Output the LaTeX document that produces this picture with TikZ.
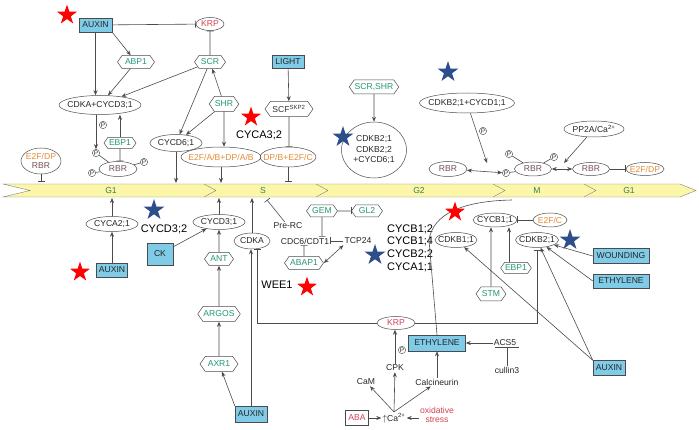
\documentclass[tikz,border=0pt]{standalone}
\usepackage{fontspec}
\setmainfont{Liberation Sans}
\usetikzlibrary{shapes.geometric,shapes.symbols,arrows.meta}

\definecolor{boxblue}{RGB}{128,204,232}
\definecolor{gentxt}{RGB}{35,150,120}
\definecolor{e2ftxt}{RGB}{225,140,55}
\definecolor{krptxt}{RGB}{210,65,85}
\definecolor{rbrtxt}{RGB}{115,80,85}
\definecolor{edge}{RGB}{75,75,75}
\definecolor{phasefill}{RGB}{252,247,168}
\definecolor{phasetxt}{RGB}{60,125,85}
\definecolor{starblue}{RGB}{45,78,138}

\newcommand{\nodefont}{\fontsize{8.6}{9.6}\selectfont}
\newcommand{\genefont}{\fontsize{11}{12.7}\selectfont}

\begin{document}
\begin{tikzpicture}[x=1pt,y=-1pt,
    every node/.style={font=\nodefont,text=black!85},
    ov/.style={ellipse,draw=edge,line width=0.5pt,inner xsep=-5pt,inner ysep=0pt,minimum height=14pt},
    hex/.style={signal,signal to=east and west,signal pointer angle=110,draw=edge,line width=0.5pt,
      text=gentxt,inner xsep=0.5pt,inner ysep=0pt,minimum height=13pt},
    sig/.style={rectangle,draw=edge,line width=0.5pt,fill=boxblue,inner sep=0pt,minimum height=14pt},
    lbl/.style={inner sep=1pt},
    gene/.style={font=\genefont,text=black,inner sep=0pt},
    pc/.style={circle,draw=edge,line width=0.4pt,inner sep=0.4pt,font=\fontsize{6.5}{6.5}\selectfont},
    rstar/.style={star,star points=5,star point ratio=2.6,fill=red,minimum size=21pt,inner sep=0pt},
    bstar/.style={rstar,fill=starblue,minimum size=22pt},
    act/.style={-{Stealth[length=5pt,width=4pt]}},
    inh/.style={-{Bar[width=7pt]}},
    dact/.style={{Stealth[length=5pt,width=4pt]}-{Stealth[length=5pt,width=4pt]}}]
  \useasboundingbox (0,0) rectangle (699,430);

  \draw[edge!70,fill=phasefill] (3,184) -- (680,184) -- (696,190.5) -- (680,197) -- (3,197) -- (30,190.5) -- cycle;
  \foreach \x in {204,316,493,584}
    \draw[edge!70] (\x,184) -- ++(12,6.5) -- ++(-12,6.5);
  \node[text=phasetxt] (g1a) at (111,190.5) {G1};
  \node[text=phasetxt] (s) at (263,190.5) {S};
  \node[text=phasetxt] (g2) at (419,190.5) {G2};
  \node[text=phasetxt] (m) at (537,190.5) {M};
  \node[text=phasetxt] (g1b) at (629,190.5) {G1};
  \coordinate (tE2fdp) at (41,182);
  \coordinate (tCycd6) at (176,183);
  \coordinate (tE2fab) at (221,183);
  \coordinate (tDpb) at (288,182);
  \coordinate (bCyca2) at (112,198);
  \coordinate (bCycd3) at (219,198);
  \coordinate (bCdka) at (252,198);
  \coordinate (bPrerc) at (267,200);
  \coordinate (bM) at (512,200);
  \coordinate (mRbr1) at (487,163);
  \coordinate (mRbr2) at (564,163);

  \node[sig,minimum width=33pt] (auxA) at (95.5,25) {AUXIN};
  \node[ov,text=krptxt,minimum width=28pt,minimum height=13pt] (krpA) at (210,24) {KRP};
  \node[hex,minimum width=37pt] (abp1) at (136,62) {ABP1};
  \node[hex,minimum width=31pt] (scr) at (210,62) {SCR};
  \node[sig,minimum width=32pt,minimum height=13pt] (light) at (288,62) {LIGHT};
  \node[hex,minimum width=48pt,minimum height=15pt,text=black!80] (scf) at (289,109) {SCF\textsuperscript{SKP2}};
  \node[hex,minimum width=46pt,minimum height=14pt] (scrshr) at (374,87) {SCR,SHR};
  \node[ov,minimum width=82pt,minimum height=19pt] (cdkd3) at (100,105) {CDKA+CYCD3;1};
  \node[hex,minimum width=27pt,minimum height=15pt] (shr) at (224,104) {SHR};
  \node[ov,minimum width=95pt,minimum height=20pt] (cdkb2d1) at (467,103) {CDKB2;1+CYCD1;1};
  \node[gene] (cyca32) at (259,135) {CYCA3;2};
  \node[ov,align=center,minimum width=65pt,minimum height=56pt,font=\fontsize{8.6}{10.5}\selectfont] (cdkb2g) at (374,150) {CDKB2;1\\CDKB2;2\\+CYCD6;1};
  \node[ov,minimum width=60pt,minimum height=16pt] (pp2a) at (594,129) {PP2A/Ca\textsuperscript{2+}};
  \node[hex,minimum width=32pt,minimum height=11pt] (ebp1a) at (120,143) {EBP1};
  \node[ov,minimum width=52pt,minimum height=17pt] (cycd61) at (176,143) {CYCD6;1};
  \node[ov,align=center,minimum width=40pt,minimum height=26pt] (e2fdpA) at (41,161) {\textcolor{e2ftxt}{E2F/DP}\\\textcolor{rbrtxt}{RBR}};
  \node[ov,text=rbrtxt,minimum width=38pt,minimum height=15pt] (rbrA) at (118,169) {RBR};
  \node[pc] (pA1) at (96,153) {P};
  \node[pc] (pA2) at (144,162) {P};
  \node[pc] (pA3) at (92,173) {P};
  \node[pc] (pA0) at (103,125) {P};
  \node[ov,text=e2ftxt,minimum width=80pt,minimum height=20pt] (e2fab) at (221,157) {E2F/A/B+DP/A/B};
  \node[ov,text=e2ftxt,minimum width=54pt,minimum height=20pt] (dpb) at (288,157) {DP/B+E2F/C};
  \node[ov,text=rbrtxt,minimum width=38pt,minimum height=15pt] (rbrB) at (448,169) {RBR};
  \node[ov,text=rbrtxt,minimum width=37pt,minimum height=14pt] (rbrC) at (533,169) {RBR};
  \node[pc] (pC1) at (509,154) {P};
  \node[pc] (pC2) at (554,157) {P};
  \node[pc] (pC3) at (506,173) {P};
  \node[pc] (pB0) at (483,131) {P};
  \node[ov,text=rbrtxt,minimum width=37pt,minimum height=13pt] (rbrD) at (591,169) {RBR};
  \node[ov,text=e2ftxt,minimum width=38pt,minimum height=13pt] (e2fdpB) at (645,169) {E2F/DP};

  \node[ov,minimum width=52pt,minimum height=15pt] (cyca21) at (112,224) {CYCA2;1};
  \node[gene] (cycd32) at (164,229) {CYCD3;2};
  \node[ov,minimum width=52pt,minimum height=15pt] (cycd31) at (219,222) {CYCD3;1};
  \node[sig,minimum width=26pt,minimum height=22pt] (ck) at (160,254) {CK};
  \node[sig,minimum width=31pt] (auxB) at (112,270) {AUXIN};
  \node[hex,minimum width=29pt] (ant) at (219,259) {ANT};
  \node[ov,minimum width=36pt,minimum height=16pt] (cdka) at (252,241) {CDKA};
  \node[lbl] (prerc) at (288,226) {Pre-RC};
  \node[hex,minimum width=31pt,minimum height=12pt] (gem) at (322,211) {GEM};
  \node[hex,minimum width=31pt,minimum height=12pt] (gl2) at (367,211) {GL2};
  \node[lbl] (cdc6) at (305,241) {CDC6/CDT1};
  \node[lbl] (tcp24) at (358,241) {TCP24};
  \node[hex,minimum width=39pt] (abap1) at (304,263) {ABAP1};
  \node[gene,align=left,anchor=west] (cycbs) at (387,248) {CYCB1;2\\CYCB1;4\\CYCB2;2\\CYCA1;1};
  \node[gene] (wee1) at (277,285) {WEE1};
  \node[ov,minimum width=44pt] (cycb11) at (495,220) {CYCB1;1};
  \node[ov,text=e2ftxt,minimum width=34pt] (e2fc) at (550,220) {E2F/C};
  \node[ov,minimum width=42pt,minimum height=15pt] (cdkb11) at (456,240) {CDKB1;1};
  \node[ov,minimum width=43pt,minimum height=15pt] (cdkb21) at (537,240) {CDKB2;1};
  \node[sig,minimum width=56pt,minimum height=15pt] (wound) at (621,256) {WOUNDING};
  \node[sig,minimum width=56pt] (ethR) at (621,281) {ETHYLENE};
  \node[hex,minimum width=30pt,minimum height=11pt] (ebp1b) at (516,268) {EBP1};
  \node[hex,minimum width=30pt,minimum height=14pt] (stm) at (491,294) {STM};
  \node[hex,minimum width=38pt,minimum height=15pt] (argos) at (219,314) {ARGOS};
  \node[ov,text=krptxt,minimum width=38pt,minimum height=13pt] (krpB) at (396,323) {KRP};
  \node[sig,minimum width=57pt,minimum height=16pt] (ethM) at (437,343) {ETHYLENE};
  \node[lbl] (acs5) at (505,343) {ACS5};
  \node[lbl] (cul3) at (507,370) {cullin3};
  \node[lbl] (cpk) at (395,368) {CPK};
  \node[pc] (pD) at (402,350) {P};
  \node[hex,minimum width=38pt,minimum height=15pt] (axr1) at (219,364) {AXR1};
  \node[sig,minimum width=32pt,minimum height=15pt] (auxC) at (609,368) {AUXIN};
  \node[lbl] (cam) at (366,382) {CaM};
  \node[lbl] (calc) at (437,382) {Calcineurin};
  \node[sig,minimum width=32pt,minimum height=16pt] (auxD) at (251,414) {AUXIN};
  \node[rectangle,draw=edge,line width=0.5pt,text=krptxt,minimum width=23pt,minimum height=15pt,inner sep=0pt] (aba) at (357,418) {ABA};
  \node[lbl] (ca) at (394,418) {$\uparrow$Ca\textsuperscript{2+}};
  \node[lbl,text=krptxt,align=center] (oxs) at (437,415) {oxidative\\stress};

  \begin{scope}[edge,line width=0.6pt]
    \draw[inh] (auxA) -- (krpA);
    \draw[act] (auxA) -- (auxA |- cdkd3.north);
    \draw[act] (auxA.south east) -- (abp1);
    \draw[act] (abp1) -- (cdkd3);
    \draw[inh] (scr) -- (krpA);
    \draw[act] (scr) -- (cdkd3);
    \draw[act] (shr) -- (scr);
    \draw[act] (scr) -- (cycd61);
    \draw[act] (shr) -- (cycd61);
    \draw[act] (shr) -- (shr |- e2fab.north);
    \draw[act] (cdkd3.south -| pA1) -- (pA1);
    \draw[act] (ebp1a.north) -- (ebp1a.north |- cdkd3.south);
    \draw[inh] (ebp1a) -- (ebp1a |- rbrA.north);
    \draw (pA1) -- (rbrA);
    \draw (pA2) -- (rbrA);
    \draw (pA3) -- (rbrA);
    \draw[inh] (e2fdpA) -- (tE2fdp);
    \draw[act] (cycd61) -- (tCycd6);
    \draw[act] (e2fab) -- (tE2fab);
    \draw[inh] (dpb) -- (tDpb);
    \draw[act] (light) -- (scf);
    \draw[inh] (scf) -- (scf |- dpb.north);
    \draw[act] (scrshr) -- (cdkb2g);
    \draw[act] (cdkb2d1) -- (mRbr1);
    \draw[dact] (rbrB) -- (pC3);
    \draw (pC1) -- (rbrC);
    \draw (pC2) -- (rbrC);
    \draw (pC3) -- (rbrC);
    \draw[act] (pp2a) -- (mRbr2);
    \draw[dact] (rbrC) -- (rbrD);
    \draw[inh] (rbrD) -- (e2fdpB);

    \draw[act] (cyca21) -- (bCyca2);
    \draw[act] (auxB) -- (cyca21);
    \draw[act] (ck) -- (cycd31);
    \draw[act] (cycd31) -- (bCycd3);
    \draw[act] (ant) -- (cycd31);
    \draw[act] (argos) -- (ant);
    \draw[act] (axr1) -- (argos);
    \draw[act] (auxD.north west) -- (axr1);
    \draw[act] (auxD.north) -- (auxD.north |- cdka.south);
    \draw[inh] (krpB) -| ([xshift=5pt]cdka.south);
    \draw[act] (cdka) -- (bCdka);
    \draw[inh,shorten >=2pt] (krpB) -| (cdkb21);
    \draw[inh] (prerc) -- (bPrerc);
    \draw[inh] (gem) -- (gl2);
    \draw[inh] (gem) -- (gem |- cdc6.north);
    \draw[inh] (tcp24) -- (cdc6);
    \draw[inh] (abap1) -- (abap1 |- cdc6.south);
    \draw[dact] (abap1.east) -- (tcp24.south west);
    \draw[inh] (e2fc) -- (cycb11);
    \draw[act] ([xshift=-7pt]ebp1b.north) -- ([xshift=-7pt]ebp1b.north |- cycb11.south);
    \draw[act] (stm) -- (stm |- cycb11.south);
    \draw[act] (auxC.north west) -- (cdkb11);
    \draw[act] (auxC.north west) -- (cdkb21);
    \draw[act] (wound.west) -- (cdkb21);
    \draw[act] (ethR.west) -- (cdkb21);
    \draw (ethM.north) -- (429,240) .. controls (433,214) and (462,201) .. (bM);
    \draw[act] (acs5) -- (ethM);
    \draw[-{Bar[width=24pt]}] (cul3) -- (cul3 |- acs5.south);
    \draw[act] (calc) -- (ethM);
    \draw[act] (cpk) -- (cpk |- krpB.south);
    \draw[act] (ca.north) -- (cam);
    \draw[act] (ca.north) -- (cpk);
    \draw[act] (ca.north) -- (calc);
    \draw[act] (aba) -- (ca);
    \draw[act] (oxs.west |- ca) -- (ca.east);
  \end{scope}

  \node[rstar] (st1) at (67,15) {};
  \node[bstar] (st2) at (448,72) {};
  \node[rstar] (st3) at (251,117) {};
  \node[bstar] (st4) at (343,137) {};
  \node[bstar] (st5) at (154,210) {};
  \node[rstar] (st6) at (80,272) {};
  \node[bstar] (st7) at (375,255) {};
  \node[rstar] (st8) at (307,287) {};
  \node[rstar] (st9) at (455,212) {};
  \node[bstar] (st10) at (570,240) {};
\end{tikzpicture}
\end{document}
